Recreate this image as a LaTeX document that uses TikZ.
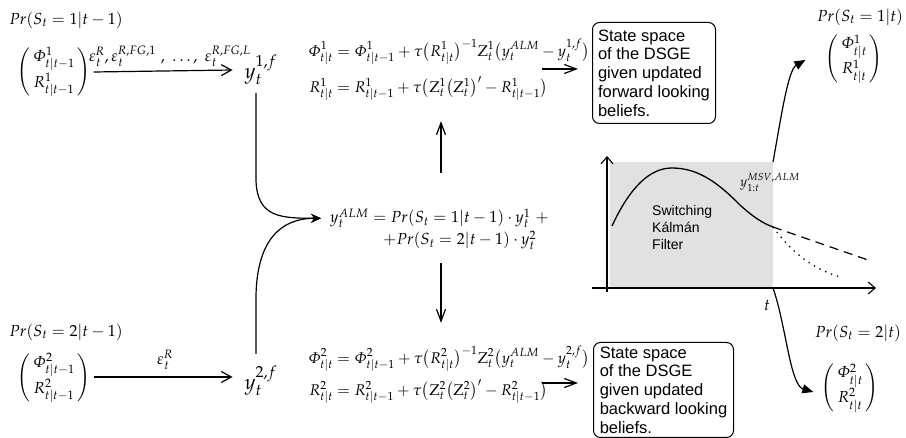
\documentclass[tikz,border=0pt]{standalone}
\usepackage{amsmath}
\usepackage[slantedGreek]{mathpazo}
\usepackage[no-math]{fontspec}
\newfontfamily\arialf{Liberation Sans}
\usetikzlibrary{arrows.meta,calc}
\definecolor{gfill}{RGB}{225,225,225}
\newcommand{\pvec}[3][4pt]{\left(\begin{array}{@{\,}c@{\,}}#2\\[#1]#3\end{array}\right)}
\tikzset{
 lbl/.style={inner sep=0pt, font=\fontsize{16}{19}\selectfont},
 biglbl/.style={inner sep=0pt, font=\fontsize{21}{24}\selectfont},
 eqn/.style={inner sep=0pt, font=\fontsize{15.5}{18}\selectfont},
 sbox/.style={draw, rounded corners=7pt, align=left, inner xsep=3pt, inner ysep=2pt, font=\arialf\fontsize{16.5}{18.75}\selectfont, line width=1pt},
 conn/.style={line width=1.2pt},
 harr/.style={conn, -{Straight Barb[length=10pt,width=11pt]}},
 varr/.style={conn, -{Straight Barb[length=12pt,width=9pt]}},
 merge/.style={conn, -{Stealth[length=10pt,width=9pt]}},
 farr/.style={conn, -{Triangle[length=11pt,width=9pt]}},
 axisline/.style={line width=1.1pt, -{Straight Barb[length=7pt,width=12pt]}},
}
\begin{document}
\begin{tikzpicture}[x=1pt,y=-1pt]
\useasboundingbox (0,0) rectangle (906,438);

% ---- left column
\node[lbl] (pr1) at (66,20) {$Pr(S_t = 1|t-1)$};
\node[lbl] (m1) at (54,72) {$\pvec[6pt]{\Phi^1_{t|t-1}}{R^1_{t|t-1}}$};
\node[biglbl] (y1f) at (261,70) {$y_t^{1,f}$};
\draw[harr] ($(m1.east)+(3,0)$) -- ($(y1f.west)+(-12,0)$);
\node[lbl] (e1) at (170,56) {$\varepsilon_t^R,\varepsilon_t^{R,FG,1}\ ,\ \dots,\ \varepsilon_t^{R,FG,L}$};

\node[lbl] (pr2) at (66,332) {$Pr(S_t = 2|t-1)$};
\node[lbl] (m2) at (54,378) {$\pvec[6pt]{\Phi^2_{t|t-1}}{R^2_{t|t-1}}$};
\node[biglbl] (y2f) at (261,381) {$y_t^{2,f}$};
\draw[harr] ($(m2.east)+(3,-1)$) -- ($(y2f.west)+(-12,-4)$);
\node[lbl] (e2) at (165,360) {$\varepsilon_t^R$};

% ---- centre
\node[lbl, anchor=base west] (alm) at (330,223) {$y_t^{ALM} = Pr(S_t = 1|t-1)\cdot y_t^1\ +$};
\node[lbl, anchor=base west] (alm2) at (383,245) {$+Pr(S_t = 2|t-1)\cdot y_t^2$};

\draw[merge] ($(y1f.south)+(-5,8)$) -- ($(y1f.south)+(-5,95)$)
  .. controls ($(y1f.south)+(-4,132)$) and ($(alm.west)+(-50,0)$) .. ($(alm.west)+(-9,0)$);
\draw[merge] ($(y2f.north)+(-5,-12)$) -- ($(y2f.north)+(-5,-70)$)
  .. controls ($(y2f.north)+(-4,-125)$) and ($(alm.west)+(-50,0)$) .. ($(alm.west)+(-9,0)$);

% ---- equations
\node[eqn] (eq1) at (449,70) {{\setlength\jot{11pt}$\begin{aligned}\Phi^1_{t|t} &= \Phi^1_{t|t-1}+\tau\bigl(R^1_{t|t}\bigr)^{-1}\mathrm{Z}^1_t\bigl(y_t^{ALM}-y_t^{1,f}\bigr)\\ R^1_{t|t} &= R^1_{t|t-1}+\tau\bigl(\mathrm{Z}^1_t\bigl(\mathrm{Z}^1_t\bigr)'-R^1_{t|t-1}\bigr)\end{aligned}$}};
\node[eqn] (eq3) at (449,375) {{\setlength\jot{7pt}$\begin{aligned}\Phi^2_{t|t} &= \Phi^2_{t|t-1}+\tau\bigl(R^2_{t|t}\bigr)^{-1}\mathrm{Z}^2_t\bigl(y_t^{ALM}-y_t^{2,f}\bigr)\\ R^2_{t|t} &= R^2_{t|t-1}+\tau\bigl(\mathrm{Z}^2_t\bigl(\mathrm{Z}^2_t\bigr)'-R^2_{t|t-1}\bigr)\end{aligned}$}};

\draw[varr] ($(alm.north -| eq1.south)+(-8,-35)$) -- ($(eq1.south)+(-8,20)$);
\draw[varr] ($(alm2.south -| eq3.north)+(-8,13)$) -- ($(eq3.north)+(-8,-23)$);

% ---- boxes
\node[sbox, anchor=north west, minimum width=123pt, minimum height=101pt] (box1) at (592,22) {State space\\of the DSGE\\given updated\\forward looking\\beliefs.};
\node[sbox, anchor=north west, minimum width=140pt, minimum height=95pt] (box2) at (593,342) {State space\\of the DSGE\\given updated\\backward looking\\beliefs.};
\draw[varr] ($(eq1.east)+(-48,-1)$) -- ($(eq1.east -| box1.west)+(-14,-1)$);
\draw[varr] ($(eq3.east)+(-48,8)$) -- ($(eq3.east -| box2.west)+(-15,8)$);

% ---- graph
\fill[gfill] (610,162) rectangle (773,288);
\coordinate (gtr) at (773,162);
\coordinate (gt) at (773,288);
\draw[axisline] (607,292) -- (607,156);
\draw[axisline] (592,288) -- (876,288);
\draw[line width=1.3pt] (612,226) .. controls (630,187) and (650,168) .. (672,168)
  .. controls (700,168) and (720,185) .. (740,205)
  .. controls (752,216) and (762,223) .. (773,227) coordinate (cend);
\draw[line width=1.2pt, dash pattern=on 9pt off 6pt] (cend) -- (868,260);
\draw[line width=1.3pt, dash pattern=on 1.3pt off 5pt] (cend) .. controls (790,250) and (810,268) .. (840,277);
\node[inner sep=0pt, anchor=west, font=\fontsize{13.5}{16}\selectfont] (ylab) at (740,182) {$y_{1:t}^{MSV,ALM}$};
\node[inner sep=0pt, anchor=north west, align=left, font=\arialf\fontsize{14}{17}\selectfont] (skf) at (652,205) {Switching\\Kálmán\\Filter};
\node[lbl] (tl) at (767,305) {$t$};

% ---- right column
\node[lbl] (pr3) at (860,17) {$Pr(S_t = 1|t)$};
\node[lbl] (m3) at (854,59) {$\pvec[5pt]{\Phi^1_{t|t}}{R^1_{t|t}}$};
\node[lbl] (pr4) at (858,333) {$Pr(S_t = 2|t)$};
\node[lbl] (m4) at (850,388) {$\pvec[5pt]{\Phi^2_{t|t}}{R^2_{t|t}}$};

\draw[farr] (gtr) .. controls (781,118) and (788,70) .. ($(m3.west)+(-20,1)$);
\draw[farr] (gt) .. controls (786,325) and (790,385) .. ($(m4.west)+(-8,4)$);
\end{tikzpicture}
\end{document}
